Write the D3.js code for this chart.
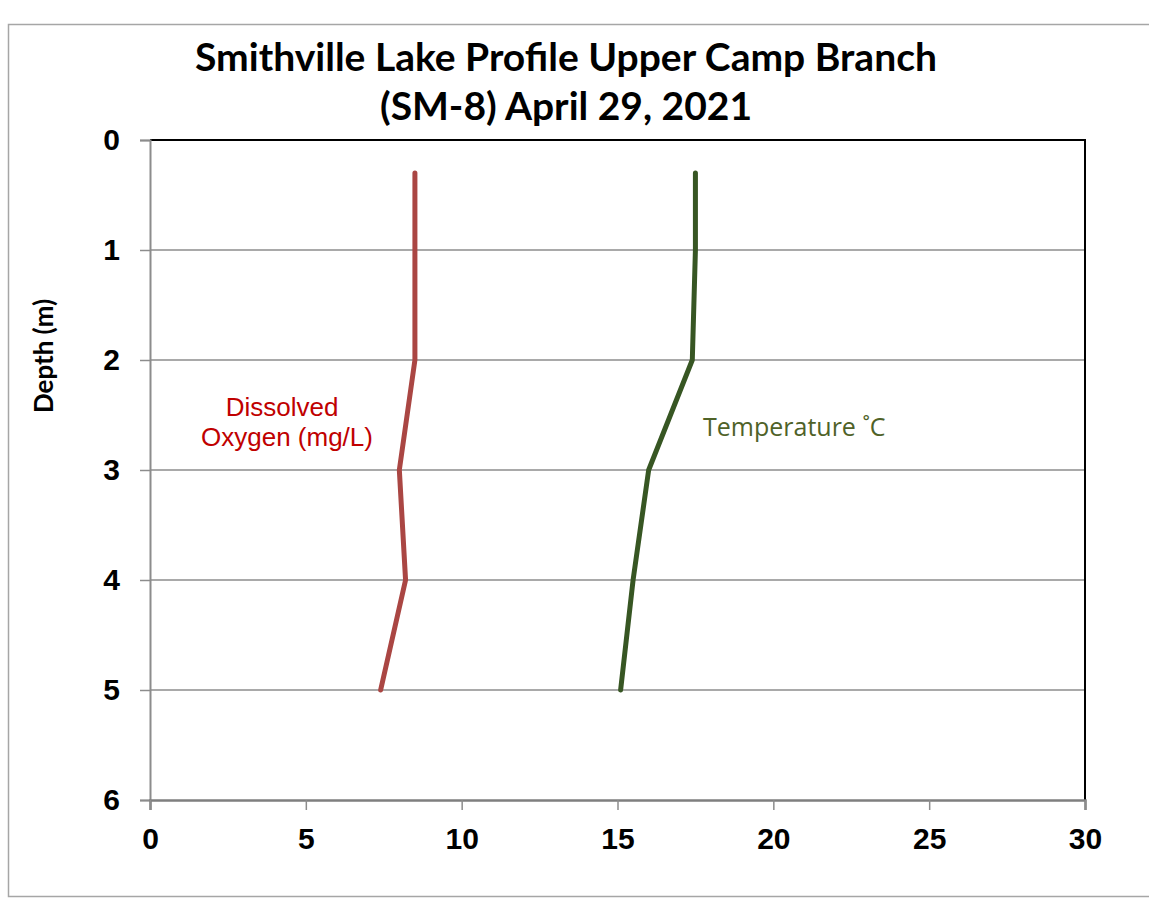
<!DOCTYPE html>
<html>
<head>
<meta charset="utf-8">
<script src="https://cdn.jsdelivr.net/npm/d3@7"></script>
<style>
  body { margin: 0; background: #fff; }
</style>
</head>
<body>
<script>
// Depth profile readings (depth in m)
const doDepth = [0.3, 1, 2, 3, 4, 5];
const doValues = [8.5, 8.5, 8.5, 8.0, 8.2, 7.4];
const tempDepth = [0.3, 1, 2, 3, 4, 5];
const tempValues = [17.5, 17.5, 17.4, 16.0, 15.5, 15.1];
const xTicks = [0, 5, 10, 15, 20, 25, 30];
const yTicks = [0, 1, 2, 3, 4, 5, 6];

const width = 1149;
const height = 915;
const plot = { left: 150, right: 1085, top: 140, bottom: 800 };

const svg = d3.select('body')
    .append('svg')
    .attr('width', width)
    .attr('height', height);

// Outer chart border
svg.append('rect')
    .attr('x', 8.5)
    .attr('y', 24.5)
    .attr('width', 1160)
    .attr('height', 872)
    .attr('fill', 'none')
    .attr('stroke', '#a6a6a6')
    .attr('stroke-width', 1.5);

const x = d3.scaleLinear().domain([0, 30]).range([plot.left, plot.right]);
const y = d3.scaleLinear().domain([0, 6]).range([plot.top, plot.bottom]);

// Horizontal gridlines
svg.append('g')
    .selectAll('line')
    .data(yTicks.slice(1, -1))
    .join('line')
    .attr('x1', plot.left)
    .attr('x2', plot.right)
    .attr('y1', (d) => y(d))
    .attr('y2', (d) => y(d))
    .attr('stroke', '#8c8c8c')
    .attr('stroke-width', 1.5);

// Top and right frame of plot area
svg.append('path')
    .attr('d', `M${plot.left},${plot.top}H${plot.right}V${plot.bottom}`)
    .attr('fill', 'none')
    .attr('stroke', '#000')
    .attr('stroke-width', 2);

// Y axis (depth)
const yAxis = d3.axisLeft(y).tickValues(yTicks).tickSize(10).tickFormat(d3.format('d'));
const gy = svg.append('g')
    .attr('transform', `translate(${plot.left},0)`)
    .call(yAxis);
gy.select('.domain').attr('stroke', '#8c8c8c').attr('stroke-width', 2);
gy.selectAll('.tick line').attr('stroke', '#8c8c8c').attr('stroke-width', 1.5);
gy.selectAll('.tick text')
    .attr('x', -30)
    .attr('font-family', 'Liberation Sans, Arial, sans-serif')
    .attr('font-weight', 'bold')
    .attr('font-size', 30)
    .attr('fill', '#000');

// X axis
const xAxis = d3.axisBottom(x).tickValues(xTicks).tickSize(10).tickFormat(d3.format('d'));
const gx = svg.append('g')
    .attr('transform', `translate(0,${plot.bottom})`)
    .call(xAxis);
gx.select('.domain').attr('stroke', '#7f7f7f').attr('stroke-width', 2.5);
gx.selectAll('.tick line').attr('stroke', '#8c8c8c').attr('stroke-width', 1.5);
gx.selectAll('.tick text')
    .attr('y', 28)
    .attr('dy', '0.71em')
    .attr('font-family', 'Liberation Sans, Arial, sans-serif')
    .attr('font-weight', 'bold')
    .attr('font-size', 30)
    .attr('fill', '#000');

// Series lines
const line = d3.line().x((d) => x(d[1])).y((d) => y(d[0]));

svg.append('path')
    .datum(d3.zip(doDepth, doValues))
    .attr('d', line)
    .attr('fill', 'none')
    .attr('stroke', '#aa4643')
    .attr('stroke-width', 5)
    .attr('stroke-linecap', 'round')
    .attr('stroke-linejoin', 'round');

svg.append('path')
    .datum(d3.zip(tempDepth, tempValues))
    .attr('d', line)
    .attr('fill', 'none')
    .attr('stroke', '#375623')
    .attr('stroke-width', 5)
    .attr('stroke-linecap', 'round')
    .attr('stroke-linejoin', 'round');

// Title
const title = svg.append('text')
    .attr('text-anchor', 'middle')
    .attr('font-family', 'Lato, Open Sans, sans-serif')
    .attr('font-weight', 'bold')
    .attr('font-size', 39)
    .attr('fill', '#000');
title.append('tspan').attr('x', 566).attr('y', 71).text('Smithville Lake Profile Upper Camp Branch');
title.append('tspan').attr('x', 566).attr('y', 120).text('(SM-8) April 29, 2021');

// Y axis title
svg.append('text')
    .attr('transform', 'translate(53,356) rotate(-90)')
    .attr('text-anchor', 'middle')
    .attr('font-family', 'Lato, Open Sans, sans-serif')
    .attr('font-weight', 'bold')
    .attr('font-size', 26)
    .attr('fill', '#000')
    .text('Depth (m)');

// Series labels
const doLabel = svg.append('text')
    .attr('text-anchor', 'middle')
    .attr('font-family', 'Liberation Sans, Arial, sans-serif')
    .attr('font-size', 26)
    .attr('fill', '#c00000');
doLabel.append('tspan').attr('x', 282).attr('y', 416).text('Dissolved');
doLabel.append('tspan').attr('x', 287).attr('y', 446).text('Oxygen  (mg/L)');

svg.append('text')
    .attr('x', 703)
    .attr('y', 436)
    .attr('font-family', 'Open Sans, sans-serif')
    .attr('font-size', 25)
    .attr('fill', '#4f6228')
    .text('Temperature ˚C');
</script>
</body>
</html>
